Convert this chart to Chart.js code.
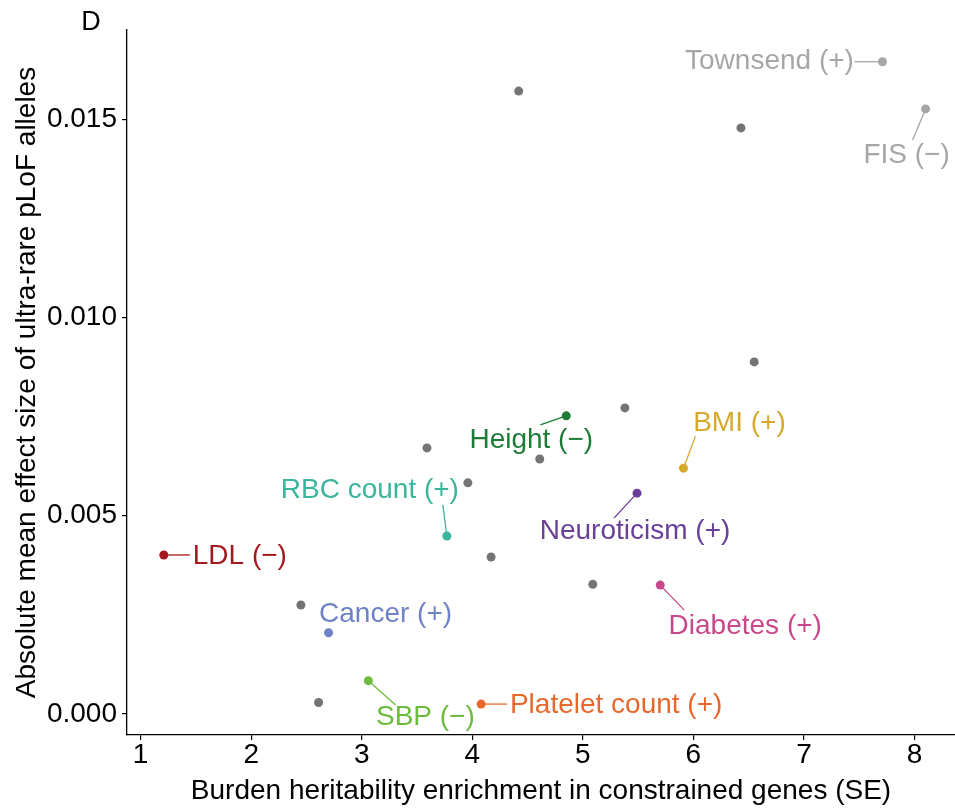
<!DOCTYPE html>
<html>
<head>
    <title>Burden heritability vs effect size</title>
    <style>
        body {
            margin: 0;
            background-color: #ffffff;
            overflow: hidden;
        }
        #wrap {
            width: 955px;
            height: 808px;
            position: relative;
        }
        canvas {
            display: block;
        }
    </style>
    <script src="https://cdn.jsdelivr.net/npm/chart.js"></script>
</head>
<body>
    <div id="wrap">
        <canvas id="scatterChart" width="955" height="808"></canvas>
    </div>

    <script>
        // highlighted traits
        var traitNames = ['Townsend (+)', 'FIS (\u2212)', 'Height (\u2212)', 'BMI (+)', 'Neuroticism (+)',
            'RBC count (+)', 'LDL (\u2212)', 'Cancer (+)', 'SBP (\u2212)', 'Platelet count (+)', 'Diabetes (+)'];
        var traitX = [7.71, 8.10, 4.85, 5.91, 5.49, 3.77, 1.21, 2.70, 3.06, 4.08, 5.70];
        var traitY = [0.01645, 0.01526, 0.00752, 0.00620, 0.00557, 0.00449, 0.00401, 0.00205, 0.00084, 0.00025, 0.00325];

        // remaining traits (unlabelled)
        var otherX = [4.42, 6.43, 6.55, 5.38, 3.59, 4.61, 3.96, 4.17, 5.09, 2.45, 2.61];
        var otherY = [0.01571, 0.01478, 0.00888, 0.00772, 0.00671, 0.00643, 0.00583, 0.00396, 0.00327, 0.00275, 0.00029];

        var xTickValues = [1, 2, 3, 4, 5, 6, 7, 8];
        var yTickValues = [0, 0.005, 0.010, 0.015];

        // styling
        var traitColors = ['#a6a6a6', '#a6a6a6', '#1e7b36', '#d6a92b', '#6a3f98',
            '#3bb59c', '#a3191f', '#6f82c6', '#6cbc3c', '#e8682c', '#c8498a'];
        var otherColor = '#747474';
        // label centre relative to its point, in px
        var labelOffsets = [[-113, -1], [-19, 45], [-35, 23], [56, -46], [-2, 37],
            [-77, -47], [76, 0], [57, -19], [57, 36], [135, 0], [85, 40]];
        // end of the connector segment relative to the point, in px
        var segmentEnds = [[-28, 0], [-13, 31], [-26, 9], [12, -32], [-23, 25],
            [-4, -31], [26, 0], [0, 0], [27, 24], [26, 0], [24, 25]];

        var fontFamily = '"Liberation Sans", Arial, Helvetica, sans-serif';

        var repelLabels = {
            id: 'repelLabels',
            afterDatasetsDraw: function(chart) {
                var ctx = chart.ctx;
                var xs = chart.scales.x;
                var ys = chart.scales.y;
                ctx.save();
                ctx.font = '28px ' + fontFamily;
                ctx.textAlign = 'center';
                ctx.textBaseline = 'middle';
                for (var i = 0; i < traitNames.length; i++) {
                    var px = xs.getPixelForValue(traitX[i]);
                    var py = ys.getPixelForValue(traitY[i]);
                    var seg = segmentEnds[i];
                    if (seg[0] !== 0 || seg[1] !== 0) {
                        ctx.strokeStyle = traitColors[i];
                        ctx.lineWidth = 1.3;
                        ctx.beginPath();
                        ctx.moveTo(px, py);
                        ctx.lineTo(px + seg[0], py + seg[1]);
                        ctx.stroke();
                    }
                    ctx.fillStyle = traitColors[i];
                    ctx.fillText(traitNames[i], px + labelOffsets[i][0], py + labelOffsets[i][1] + 1);
                }
                // panel letter
                ctx.fillStyle = '#000';
                ctx.font = '27px ' + fontFamily;
                ctx.fillText('D', 91, 23);
                ctx.restore();
            }
        };

        var otherPoints = otherX.map(function(x, i) { return { x: x, y: otherY[i] }; });
        var traitPoints = traitX.map(function(x, i) { return { x: x, y: traitY[i] }; });

        new Chart(document.getElementById('scatterChart'), {
            type: 'scatter',
            data: {
                datasets: [{
                    label: 'Other',
                    data: otherPoints,
                    backgroundColor: otherColor,
                    borderWidth: 0,
                    pointRadius: 4.5
                }, {
                    label: 'Traits',
                    data: traitPoints,
                    backgroundColor: traitColors,
                    borderWidth: 0,
                    pointRadius: 4.5
                }]
            },
            options: {
                responsive: false,
                animation: false,
                layout: {
                    autoPadding: false,
                    padding: { top: 30, right: 0, left: 0, bottom: 0 }
                },
                plugins: {
                    legend: { display: false },
                    tooltip: { enabled: false }
                },
                scales: {
                    x: {
                        type: 'linear',
                        min: 0.877,
                        max: 8.366,
                        afterBuildTicks: function(scale) {
                            scale.ticks = xTickValues.map(function(v) { return { value: v }; });
                        },
                        afterFit: function(scale) {
                            scale.height = 73;
                            scale.paddingLeft = 0;
                            scale.paddingRight = 0;
                        },
                        border: { display: true, color: '#000', width: 1.3 },
                        grid: { drawOnChartArea: false, drawTicks: true, tickLength: 5, color: '#000', lineWidth: 1.2 },
                        ticks: {
                            color: '#000',
                            padding: -2,
                            maxRotation: 0,
                            font: { family: fontFamily, size: 28 },
                            callback: function(v) { return String(v); }
                        },
                        title: {
                            display: true,
                            text: 'Burden heritability enrichment in constrained genes (SE)',
                            color: '#000',
                            font: { family: fontFamily, size: 28 },
                            padding: { top: 11, bottom: 0 }
                        }
                    },
                    y: {
                        type: 'linear',
                        min: -0.00053,
                        max: 0.01725,
                        afterBuildTicks: function(scale) {
                            scale.ticks = yTickValues.map(function(v) { return { value: v }; });
                        },
                        afterFit: function(scale) { scale.width = 127; },
                        border: { display: true, color: '#000', width: 1.3 },
                        grid: { drawOnChartArea: false, drawTicks: true, tickLength: 5, color: '#000', lineWidth: 1.2 },
                        ticks: {
                            color: '#000',
                            padding: 5,
                            font: { family: fontFamily, size: 28 },
                            callback: function(v) { return v.toFixed(3); }
                        },
                        title: {
                            display: true,
                            text: 'Absolute mean effect size of ultra-rare pLoF alleles',
                            color: '#000',
                            font: { family: fontFamily, size: 28 },
                            padding: { top: 10, bottom: 0 }
                        }
                    }
                }
            },
            plugins: [repelLabels]
        });
    </script>
</body>
</html>
